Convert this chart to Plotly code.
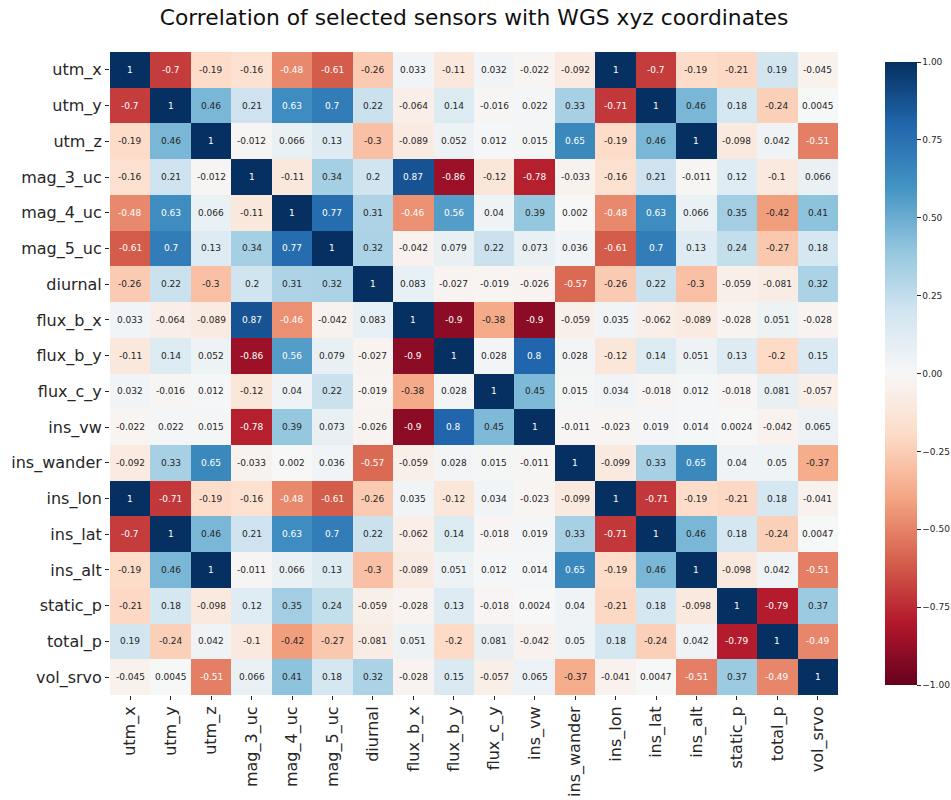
import plotly.graph_objects as go

labels = ["utm_x", "utm_y", "utm_z", "mag_3_uc", "mag_4_uc", "mag_5_uc", "diurnal",
          "flux_b_x", "flux_b_y", "flux_c_y", "ins_vw", "ins_wander", "ins_lon",
          "ins_lat", "ins_alt", "static_p", "total_p", "vol_srvo"]

utm_x = [1, -0.7, -0.19, -0.16, -0.48, -0.61, -0.26, 0.033, -0.11, 0.032, -0.022, -0.092, 1, -0.7, -0.19, -0.21, 0.19, -0.045]
utm_y = [-0.7, 1, 0.46, 0.21, 0.63, 0.7, 0.22, -0.064, 0.14, -0.016, 0.022, 0.33, -0.71, 1, 0.46, 0.18, -0.24, 0.0045]
utm_z = [-0.19, 0.46, 1, -0.012, 0.066, 0.13, -0.3, -0.089, 0.052, 0.012, 0.015, 0.65, -0.19, 0.46, 1, -0.098, 0.042, -0.51]
mag_3_uc = [-0.16, 0.21, -0.012, 1, -0.11, 0.34, 0.2, 0.87, -0.86, -0.12, -0.78, -0.033, -0.16, 0.21, -0.011, 0.12, -0.1, 0.066]
mag_4_uc = [-0.48, 0.63, 0.066, -0.11, 1, 0.77, 0.31, -0.46, 0.56, 0.04, 0.39, 0.002, -0.48, 0.63, 0.066, 0.35, -0.42, 0.41]
mag_5_uc = [-0.61, 0.7, 0.13, 0.34, 0.77, 1, 0.32, -0.042, 0.079, 0.22, 0.073, 0.036, -0.61, 0.7, 0.13, 0.24, -0.27, 0.18]
diurnal = [-0.26, 0.22, -0.3, 0.2, 0.31, 0.32, 1, 0.083, -0.027, -0.019, -0.026, -0.57, -0.26, 0.22, -0.3, -0.059, -0.081, 0.32]
flux_b_x = [0.033, -0.064, -0.089, 0.87, -0.46, -0.042, 0.083, 1, -0.9, -0.38, -0.9, -0.059, 0.035, -0.062, -0.089, -0.028, 0.051, -0.028]
flux_b_y = [-0.11, 0.14, 0.052, -0.86, 0.56, 0.079, -0.027, -0.9, 1, 0.028, 0.8, 0.028, -0.12, 0.14, 0.051, 0.13, -0.2, 0.15]
flux_c_y = [0.032, -0.016, 0.012, -0.12, 0.04, 0.22, -0.019, -0.38, 0.028, 1, 0.45, 0.015, 0.034, -0.018, 0.012, -0.018, 0.081, -0.057]
ins_vw = [-0.022, 0.022, 0.015, -0.78, 0.39, 0.073, -0.026, -0.9, 0.8, 0.45, 1, -0.011, -0.023, 0.019, 0.014, 0.0024, -0.042, 0.065]
ins_wander = [-0.092, 0.33, 0.65, -0.033, 0.002, 0.036, -0.57, -0.059, 0.028, 0.015, -0.011, 1, -0.099, 0.33, 0.65, 0.04, 0.05, -0.37]
ins_lon = [1, -0.71, -0.19, -0.16, -0.48, -0.61, -0.26, 0.035, -0.12, 0.034, -0.023, -0.099, 1, -0.71, -0.19, -0.21, 0.18, -0.041]
ins_lat = [-0.7, 1, 0.46, 0.21, 0.63, 0.7, 0.22, -0.062, 0.14, -0.018, 0.019, 0.33, -0.71, 1, 0.46, 0.18, -0.24, 0.0047]
ins_alt = [-0.19, 0.46, 1, -0.011, 0.066, 0.13, -0.3, -0.089, 0.051, 0.012, 0.014, 0.65, -0.19, 0.46, 1, -0.098, 0.042, -0.51]
static_p = [-0.21, 0.18, -0.098, 0.12, 0.35, 0.24, -0.059, -0.028, 0.13, -0.018, 0.0024, 0.04, -0.21, 0.18, -0.098, 1, -0.79, 0.37]
total_p = [0.19, -0.24, 0.042, -0.1, -0.42, -0.27, -0.081, 0.051, -0.2, 0.081, -0.042, 0.05, 0.18, -0.24, 0.042, -0.79, 1, -0.49]
vol_srvo = [-0.045, 0.0045, -0.51, 0.066, 0.41, 0.18, 0.32, -0.028, 0.15, -0.057, 0.065, -0.37, -0.041, 0.0047, -0.51, 0.37, -0.49, 1]

z = [utm_x, utm_y, utm_z, mag_3_uc, mag_4_uc, mag_5_uc, diurnal, flux_b_x, flux_b_y,
     flux_c_y, ins_vw, ins_wander, ins_lon, ins_lat, ins_alt, static_p, total_p, vol_srvo]

cbar_vals = [-1, -0.75, -0.5, -0.25, 0, 0.25, 0.5, 0.75, 1]
cbar_text = ["\u22121.00", "\u22120.75", "\u22120.50", "\u22120.25", "0.00",
             "0.25", "0.50", "0.75", "1.00"]

rdbu_hex = ["#67001f", "#b2182b", "#d6604d", "#f4a582", "#fddbc7", "#f7f7f7",
            "#d1e5f0", "#92c5de", "#4393c3", "#2166ac", "#053061"]
colorscale = [[i / 10, c] for i, c in enumerate(rdbu_hex)]


def hex_rgb(h):
    return [int(h[i:i + 2], 16) for i in (1, 3, 5)]


def value_color(v):
    t = (v + 1) / 2 * 10
    i = min(int(t), 9)
    f = t - i
    a, b = hex_rgb(rdbu_hex[i]), hex_rgb(rdbu_hex[i + 1])
    return [a[k] + (b[k] - a[k]) * f for k in range(3)]


def luminance(rgb):
    out = []
    for c in rgb:
        c = c / 255
        out.append(c / 12.92 if c <= 0.03928 else ((c + 0.055) / 1.055) ** 2.4)
    return 0.2126 * out[0] + 0.7152 * out[1] + 0.0722 * out[2]


annotations = []
for r, row in enumerate(z):
    for c, v in enumerate(row):
        col = "#262626" if luminance(value_color(v)) > 0.408 else "white"
        annotations.append(dict(x=labels[c], y=labels[r], text="{:.2g}".format(v),
                                showarrow=False, xref="x", yref="y",
                                font=dict(size=9, color=col, family="DejaVu Sans")))

W, H = 951, 800
fig = go.Figure(go.Heatmap(
    z=z, x=labels, y=labels, colorscale=colorscale, zmin=-1, zmax=1,
    colorbar=dict(x=1.0646, xanchor="left", xpad=0, y=0.5, yanchor="middle",
                  len=1, lenmode="fraction", thickness=32, outlinewidth=0,
                  tickmode="array", tickvals=cbar_vals, ticktext=cbar_text,
                  ticks="outside", ticklen=4, tickcolor="#262626",
                  tickfont=dict(size=9, family="DejaVu Sans", color="#262626")),
))

fig.update_layout(
    width=W, height=H,
    margin=dict(l=110, r=113, t=52, b=105, autoexpand=False),
    paper_bgcolor="white", plot_bgcolor="white",
    title=dict(text="Correlation of selected sensors with WGS xyz coordinates",
               x=474 / W, xanchor="center", y=1 - 17 / H, yanchor="middle",
               xref="container", yref="container",
               font=dict(size=21.8, family="DejaVu Sans", color="#111111")),
    annotations=annotations,
    font=dict(family="DejaVu Sans", color="#262626"),
)
fig.update_xaxes(tickangle=-90, tickfont=dict(size=16), ticks="outside", ticklen=4,
                 tickcolor="#262626", showgrid=False, zeroline=False, showline=False,
                 automargin=False)
fig.update_yaxes(autorange="reversed", tickfont=dict(size=16), ticks="outside", ticklen=4,
                 tickcolor="#262626", showgrid=False, zeroline=False, showline=False,
                 automargin=False)

fig.write_html("out.html", config={"displayModeBar": False},
               post_script="document.body.style.margin='0';document.body.style.overflow='hidden';")
